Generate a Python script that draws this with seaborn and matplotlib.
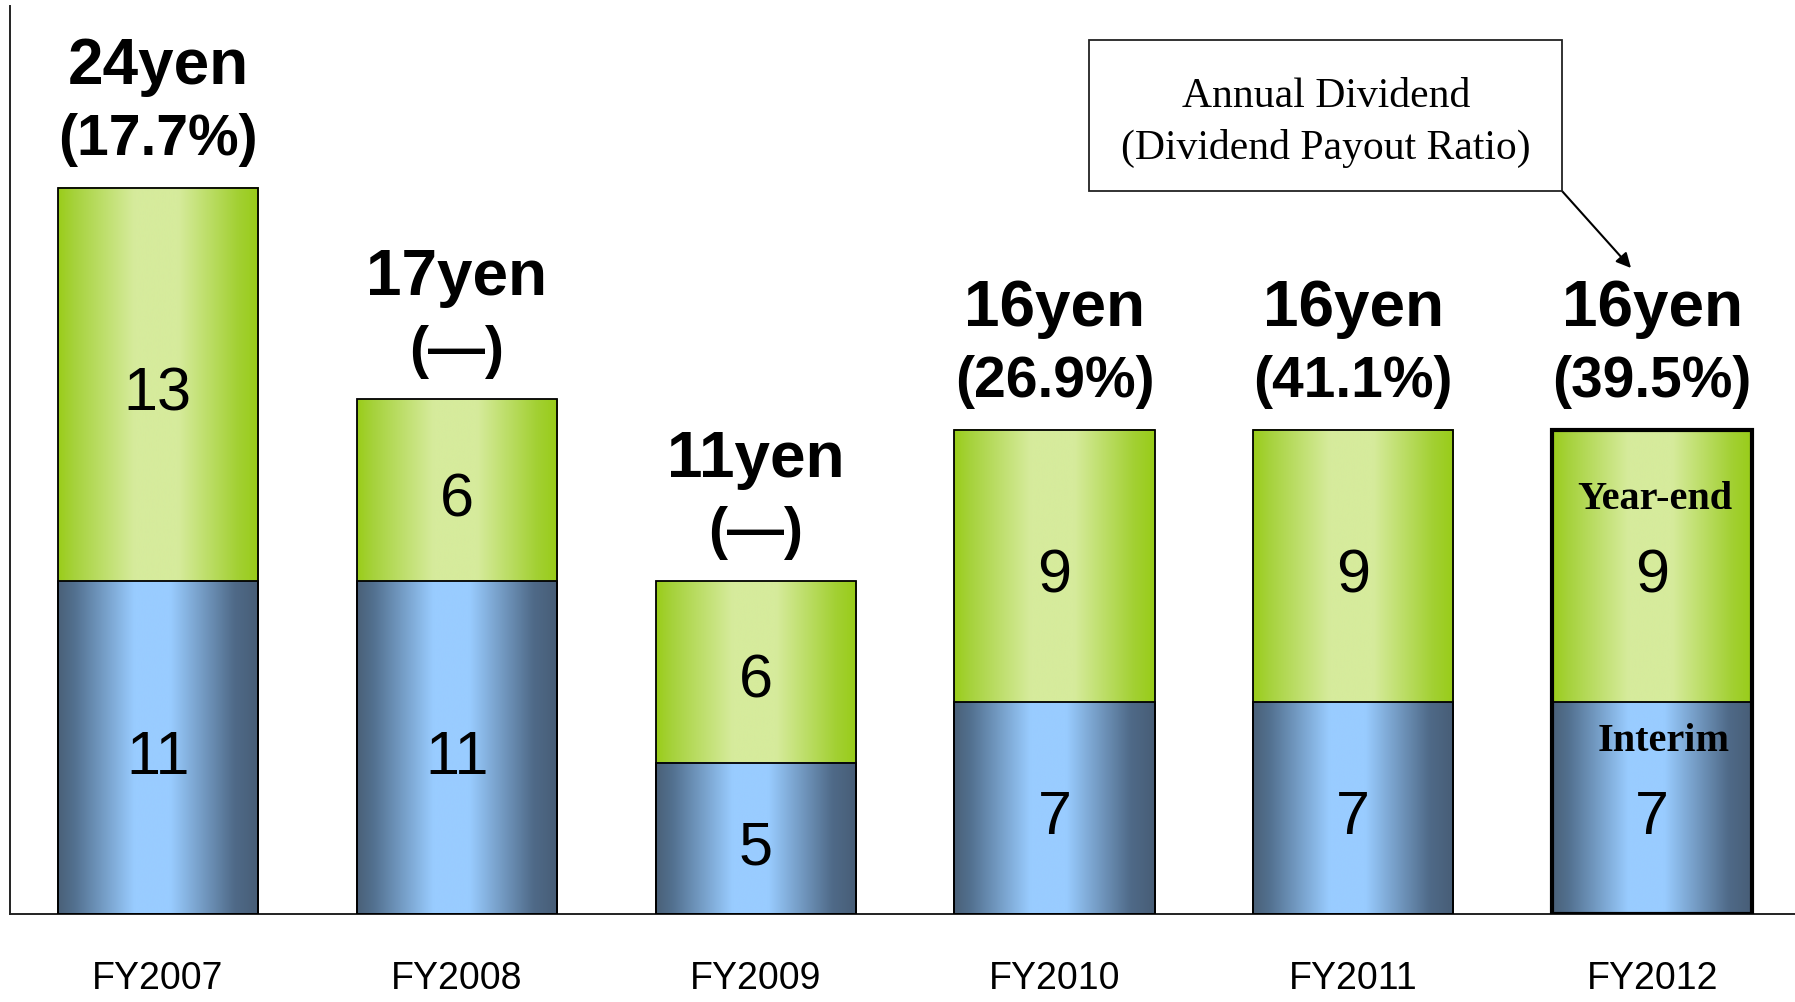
import numpy as np
import matplotlib
matplotlib.use("Agg")
import matplotlib.pyplot as plt
from matplotlib.colors import LinearSegmentedColormap
from matplotlib.patches import Rectangle
import seaborn as sns

# ---- data ----
years = ["FY2007", "FY2008", "FY2009", "FY2010", "FY2011", "FY2012"]
interim = [11, 11, 5, 7, 7, 7]
year_end = [13, 6, 6, 9, 9, 9]
payout = ["(17.7%)", "(\u2014)", "(\u2014)", "(26.9%)", "(41.1%)", "(39.5%)"]
totals = [a + b for a, b in zip(interim, year_end)]

SANS = ["Liberation Sans", "DejaVu Sans"]
NARROW = ["Liberation Sans Narrow", "Liberation Sans", "DejaVu Sans"]
SERIF = ["Liberation Serif", "DejaVu Serif"]

sns.set_style("white")
plt.rcParams["font.family"] = SANS
plt.rcParams["text.color"] = "black"
plt.rcParams["xtick.color"] = "black"

fig = plt.figure(figsize=(17.95, 10.02), dpi=100)
ax = fig.add_axes([10 / 1795, 88 / 1002, 1 - 10 / 1795, 908 / 1002])

bar_w = 0.67
sns.barplot(x=years, y=totals, order=years, color="#9acd1a", width=bar_w,
            ax=ax, saturation=1)
n_tot = len(ax.patches)
sns.barplot(x=years, y=interim, order=years, color="#99ccff", width=bar_w,
            ax=ax, saturation=1)
tot_patches = ax.patches[:n_tot]
int_patches = ax.patches[n_tot:]

blue_cmap = LinearSegmentedColormap.from_list(
    "b", [(0.0, "#4a6078"), (0.08, "#52708f"), (0.38, "#99ccff"),
          (0.56, "#99ccff"), (0.88, "#4f6a88"), (1.0, "#475d76")])
green_cmap = LinearSegmentedColormap.from_list(
    "g", [(0.0, "#9acd1a"), (0.08, "#a6d23c"), (0.38, "#d6eb9c"),
          (0.6, "#d6eb9c"), (0.9, "#a2d032"), (1.0, "#98cc18")])
grad = np.linspace(0, 1, 256).reshape(1, -1)

for i, (pt, pi) in enumerate(zip(tot_patches, int_patches)):
    x0 = pt.get_x()
    w = pt.get_width()
    ax.imshow(grad, cmap=green_cmap, aspect="auto", interpolation="bicubic",
              extent=(x0, x0 + w, interim[i], totals[i]), zorder=2)
    ax.imshow(grad, cmap=blue_cmap, aspect="auto", interpolation="bicubic",
              extent=(x0, x0 + w, 0, interim[i]), zorder=2)
    pt.set_facecolor("none")
    pi.set_facecolor("none")
    pi.set_edgecolor("black")
    pi.set_linewidth(1.3)
    pi.set_zorder(3)
    pt.set_edgecolor("black")
    pt.set_linewidth(3.0 if i == len(years) - 1 else 1.3)
    pt.set_zorder(4)

ax.set_xlim(-0.495, 5.478)
ax.set_ylim(0, 30)

# labels
for i in range(len(years)):
    ax.text(i, totals[i] + 4.0, f"{totals[i]}yen", ha="center", va="center",
            fontsize=46, fontweight="bold", family=SANS, color="black",
            zorder=5)
    ax.text(i, totals[i] + 1.58, payout[i], ha="center", va="center",
            fontsize=41, fontweight="bold", family=SANS, color="black",
            zorder=5)
    ax.text(i, interim[i] + year_end[i] / 2 - 0.35, str(year_end[i]),
            ha="center", va="center", fontsize=44, family=NARROW,
            color="black", zorder=5)
    ax.text(i, interim[i] / 2 - 0.35, str(interim[i]), ha="center",
            va="center", fontsize=44, family=NARROW, color="black", zorder=5)

last = len(years) - 1
ax.text(last + 0.01, interim[last] + year_end[last] / 2 + 2.2, "Year-end",
        ha="center", va="center", fontsize=29, fontweight="bold",
        family=SERIF, color="black", zorder=5)
ax.text(last + 0.04, interim[last] / 2 + 2.2, "Interim",
        ha="center", va="center", fontsize=29, fontweight="bold",
        family=SERIF, color="black", zorder=5)

# axes styling
for s in ["top", "right"]:
    ax.spines[s].set_visible(False)
for s in ["left", "bottom"]:
    ax.spines[s].set_color("#222222")
    ax.spines[s].set_linewidth(1.4)
ax.set_yticks([])
ax.set_ylabel("")
ax.set_xlabel("")
ax.tick_params(axis="x", length=0, pad=34, labelsize=27, labelcolor="black")
for lab in ax.get_xticklabels():
    lab.set_family(SANS)

# annotation box
bx0, by0, bx1, by1 = 1089, 40, 1562, 191
fig.patches.append(Rectangle((bx0 / 1795, 1 - by1 / 1002),
                             (bx1 - bx0) / 1795, (by1 - by0) / 1002,
                             transform=fig.transFigure, facecolor="white",
                             edgecolor="#222222", linewidth=1.3))
fig.text(1326 / 1795, 1 - 97 / 1002, "Annual Dividend", ha="center",
         va="center", fontsize=30, family=SERIF, color="black")
fig.text(1326 / 1795, 1 - 148 / 1002, "(Dividend Payout Ratio)", ha="center",
         va="center", fontsize=30, family=SERIF, color="black")
ax.annotate("", xy=(1631 / 1795, 1 - 268 / 1002),
            xytext=(bx1 / 1795, 1 - by1 / 1002),
            xycoords="figure fraction", textcoords="figure fraction",
            arrowprops=dict(arrowstyle="-|>", color="black", lw=1.5,
                            mutation_scale=22, shrinkA=0, shrinkB=0))

fig.savefig("out.png", dpi=100)
